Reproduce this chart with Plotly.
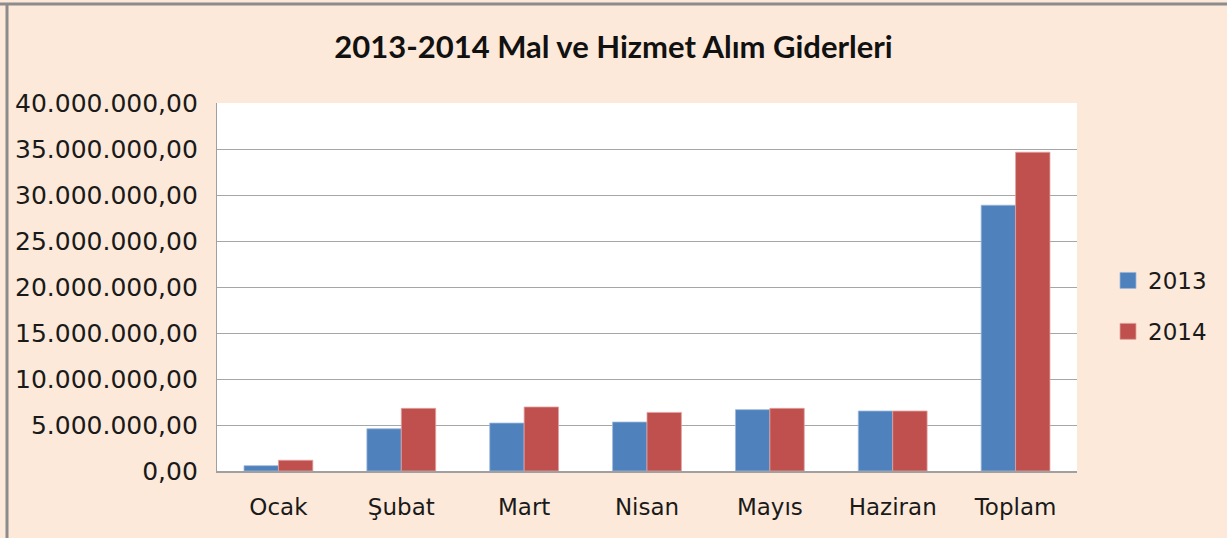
import plotly.graph_objects as go

categories = ["Ocak", "Şubat", "Mart", "Nisan", "Mayıs", "Haziran", "Toplam"]
values_2013 = [580000, 4590000, 5210000, 5320000, 6670000, 6520000, 28890000]
values_2014 = [1170000, 6810000, 6960000, 6370000, 6810000, 6520000, 34650000]
y_ticks = [0, 5000000, 10000000, 15000000, 20000000, 25000000, 30000000, 35000000, 40000000]
series_names = ["2013", "2014"]
colors = ["#4F81BD", "#C0504D"]
edge_colors = ["#9DB7DA", "#E0A3A1"]

TICK_FONT = "DejaVu Sans"
TITLE_FONT = "Lato"
BG = "#FDE9D9"

L, R, T, B = 217, 150, 103, 67
W, H = 1227, 538
PW, PH = W - L - R, H - T - B


def px(xp):
    return (xp - L) / PW


def py(yp):
    return (H - B - yp) / PH


fig = go.Figure()
for name, vals, col, ec in zip(series_names, [values_2013, values_2014], colors, edge_colors):
    fig.add_trace(go.Bar(x=categories, y=vals, name=name, showlegend=False,
                         marker=dict(color=col, line=dict(color=ec, width=0.8))))
for i, (name, col, ec) in enumerate(zip(series_names, colors, edge_colors)):
    fig.add_trace(go.Scatter(x=[None], y=[None], name=name, mode="markers",
                             legendgroup=name,
                             marker=dict(symbol="square", size=17, color=col,
                                         line=dict(color=ec, width=0.8))))

fig.update_layout(
    width=W, height=H,
    margin=dict(l=L, r=R, t=T, b=B),
    paper_bgcolor=BG, plot_bgcolor="white",
    separators=",.",
    bargap=0.44, bargroupgap=0,
    font=dict(family=TICK_FONT, size=24, color="#1a1a1a"),
    title=dict(text="<b>2013-2014 Mal ve Hizmet Alım Giderleri</b>",
               x=0.5, xanchor="center", y=1 - 47 / H, yanchor="middle",
               font=dict(family=TITLE_FONT, size=31, color="#111111")),
    legend=dict(x=px(1108), xanchor="left", y=py(306), yanchor="middle",
                bgcolor="rgba(0,0,0,0)", traceorder="grouped", tracegroupgap=18,
                font=dict(family=TICK_FONT, size=23, color="#1a1a1a")),
    xaxis=dict(showgrid=False, showline=True, linecolor="#A0A0A0", linewidth=1.5,
               ticks="", ticklabelstandoff=15, tickfont=dict(size=23)),
    yaxis=dict(range=[0, 40000000], tickvals=y_ticks, tickformat=",.2f",
               showgrid=True, gridcolor="#A6A6A6", gridwidth=1.2,
               showline=True, linecolor="#A0A0A0", linewidth=1.2,
               zeroline=False, ticks="", ticklabelstandoff=13, tickfont=dict(size=25)),
    shapes=[
        dict(type="line", xref="paper", yref="paper", x0=px(0), x1=px(W),
             y0=py(4), y1=py(4), line=dict(color="#8C8C8C", width=3)),
        dict(type="line", xref="paper", yref="paper", x0=px(7), x1=px(7),
             y0=py(3), y1=py(H), line=dict(color="#8C8C8C", width=3)),
    ],
)

fig.write_html("out.html", config={"displayModeBar": False},
               post_script="document.body.style.margin='0';")
